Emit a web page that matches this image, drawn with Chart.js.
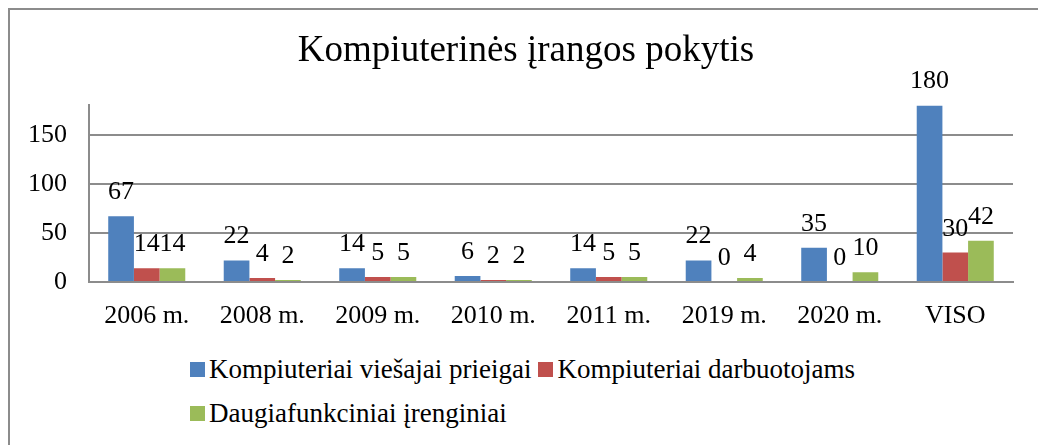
<!DOCTYPE html>
<html>
<head>
<meta charset="utf-8">
<script src="https://cdn.jsdelivr.net/npm/chart.js@4"></script>
<style>
  body { margin: 0; background: #fff; overflow: hidden; }
  #frame {
    position: absolute; left: 8px; top: 8px; width: 1100px; height: 500px;
    border-left: 2px solid #8c8c8c; border-top: 2px solid #8c8c8c;
  }
  #wrap { position: absolute; left: 0; top: 0; width: 1032px; height: 332px; }
  #legend {
    position: absolute; left: 180px; top: 337px; width: 700px;
    font-family: "Liberation Serif", "Times New Roman", serif; font-size: 27px;
    line-height: 44px; color: #000;
  }
  #legend span.item { white-space: nowrap; margin-right: 7px; }
  #legend i { display: inline-block; width: 15px; height: 15px; margin-right: 4px; margin-bottom: 1px; }
</style>
</head>
<body>
<div id="frame">
  <div id="wrap"><canvas id="myChart"></canvas></div>
  <div id="legend"></div>
</div>
<script>
var categories = ['2006 m.', '2008 m.', '2009 m.', '2010 m.', '2011 m.', '2019 m.', '2020 m.', 'VISO'];
var viesajai = [67, 22, 14, 6, 14, 22, 35, 180];
var darbuotojams = [14, 4, 5, 2, 5, 0, 0, 30];
var irenginiai = [14, 2, 5, 2, 5, 4, 10, 42];
var yTicks = [0, 50, 100, 150];

var serif = '"Liberation Serif", "Times New Roman", serif';
var gridGray = '#8c8c8c';

// value labels above each bar
var barValues = {
    id: 'barValues',
    afterDatasetsDraw: function (chart) {
        var ctx = chart.ctx;
        ctx.save();
        ctx.font = '26px ' + serif;
        ctx.fillStyle = '#000';
        ctx.textAlign = 'center';
        ctx.textBaseline = 'alphabetic';
        chart.data.datasets.forEach(function (ds, i) {
            chart.getDatasetMeta(i).data.forEach(function (bar, j) {
                ctx.fillText(String(ds.data[j]), bar.x, bar.y - 17);
            });
        });
        ctx.restore();
    }
};

var ctx = document.getElementById('myChart').getContext('2d');
var myChart = new Chart(ctx, {
    type: 'bar',
    data: {
        labels: categories,
        datasets: [{
            label: 'Kompiuteriai viešajai prieigai',
            data: viesajai,
            backgroundColor: '#4F81BD'
        }, {
            label: 'Kompiuteriai darbuotojams',
            data: darbuotojams,
            backgroundColor: '#C0504D'
        }, {
            label: 'Daugiafunkciniai įrenginiai',
            data: irenginiai,
            backgroundColor: '#9BBB59'
        }]
    },
    options: {
        responsive: true,
        maintainAspectRatio: false,
        animation: false,
        layout: { padding: 0 },
        datasets: {
            bar: { categoryPercentage: 0.667, barPercentage: 1.0 }
        },
        plugins: {
            legend: { display: false },
            tooltip: { enabled: false },
            title: {
                display: true,
                text: 'Kompiuterinės įrangos pokytis',
                color: '#000',
                font: { family: serif, size: 37, weight: 'normal' },
                padding: { top: 19, bottom: 32 }
            }
        },
        scales: {
            x: {
                grid: { display: false, drawTicks: false },
                border: { display: true, color: gridGray, width: 2 },
                ticks: {
                    color: '#000',
                    padding: 19,
                    maxRotation: 0,
                    font: { family: serif, size: 26 }
                },
                afterFit: function (scale) { scale.height = 60; }
            },
            y: {
                min: 0,
                max: 180,
                grid: { color: gridGray, lineWidth: 2, drawTicks: false },
                border: { display: true, color: gridGray, width: 2 },
                ticks: {
                    color: '#000',
                    padding: 22,
                    includeBounds: false,
                    stepSize: 50,
                    font: { family: serif, size: 26 },
                    callback: function (v) { return yTicks.indexOf(v) >= 0 ? v : ''; }
                },
                afterFit: function (scale) { scale.width = 79; }
            },
            // empty right margin so the title sits where it does in the original
            spacer: {
                position: 'right',
                grid: { display: false, drawTicks: false },
                border: { display: false },
                ticks: { display: false },
                afterFit: function (scale) { scale.width = 29; }
            }
        }
    },
    plugins: [barValues]
});

// legend as html, built from the chart datasets
var legendEl = document.getElementById('legend');
myChart.data.datasets.forEach(function (ds, i) {
    var item = document.createElement('span');
    item.className = 'item';
    var box = document.createElement('i');
    box.style.background = ds.backgroundColor;
    item.appendChild(box);
    item.appendChild(document.createTextNode(ds.label));
    legendEl.appendChild(item);
    if (i === 1) legendEl.appendChild(document.createElement('br'));
});
</script>
</body>
</html>
